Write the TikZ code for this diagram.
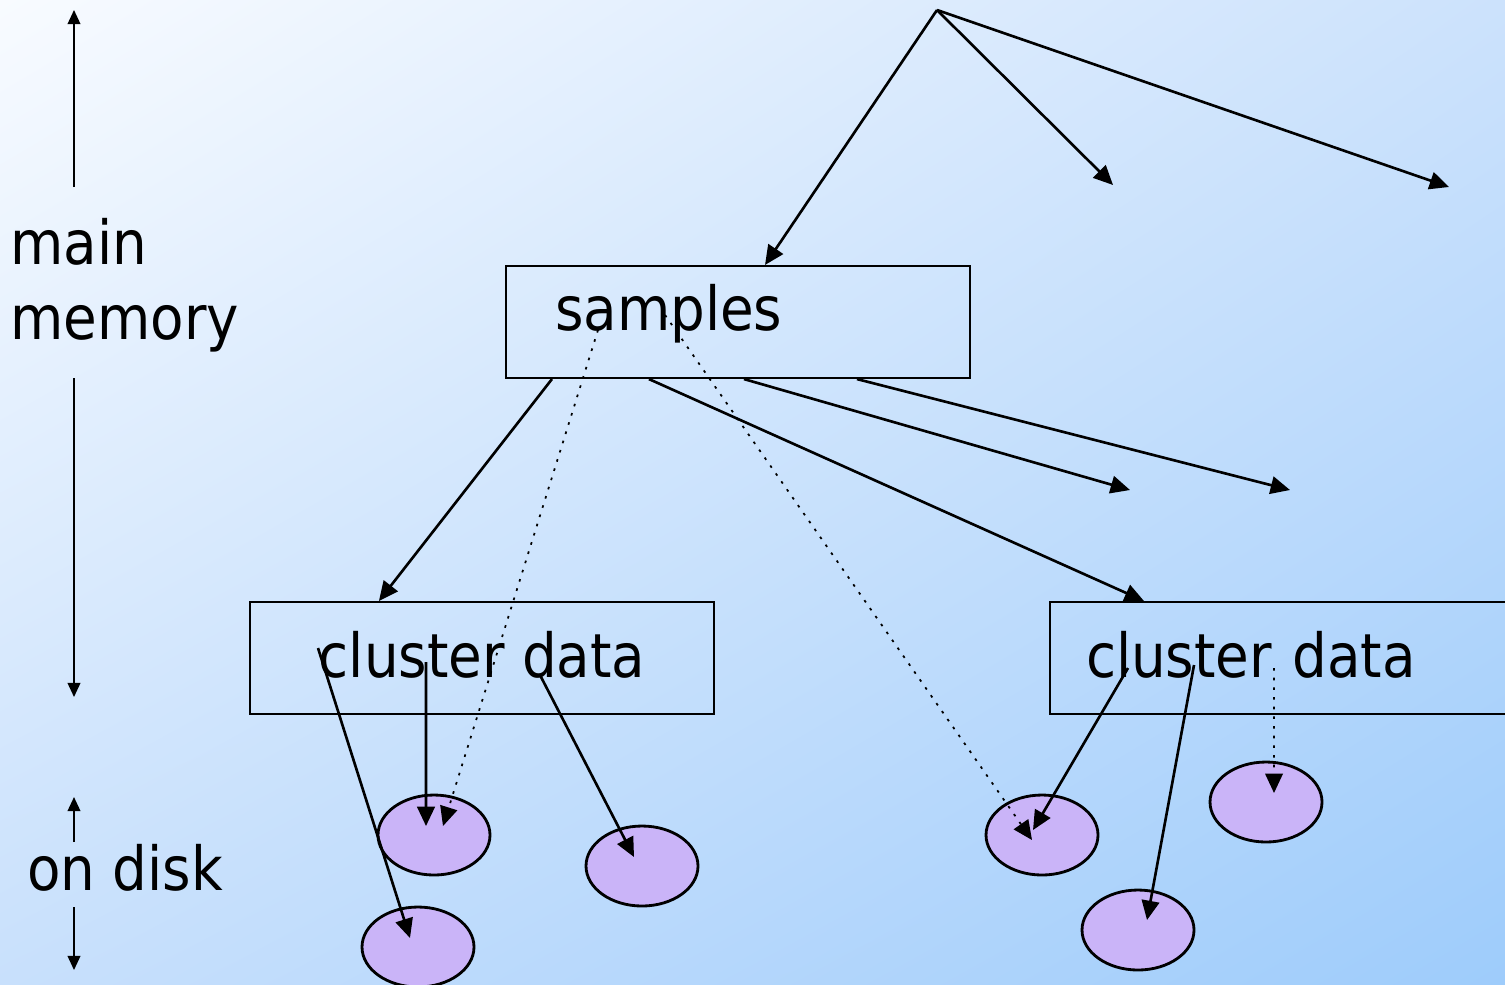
\documentclass[tikz,border=0pt]{standalone}
\usepackage{fontspec}
\setmainfont{DejaVu Sans Condensed}
\usetikzlibrary{arrows.meta,positioning,shapes.geometric,shadings}
\definecolor{bgtl}{RGB}{248,251,255}
\definecolor{bgtr}{RGB}{204,226,252}
\definecolor{bgbl}{RGB}{200,224,252}
\definecolor{bgbr}{RGB}{158,204,251}
\definecolor{diskfill}{RGB}{202,180,248}
\tikzset{box/.style={draw,line width=0.6pt,minimum width=4.64cm,minimum height=1.12cm,inner sep=0pt},
  disk/.style={ellipse,draw,line width=0.8pt,fill=diskfill,minimum width=1.12cm,minimum height=0.8cm,inner sep=0pt},
  arr/.style={-{Triangle[length=5.5pt,width=5pt]},line width=0.75pt},
  dotarr/.style={arr,dotted,line width=0.5pt},
  axarr/.style={-{Triangle[length=4pt,width=3.6pt]},line width=0.5pt}}

\begin{document}
\begin{tikzpicture}[font=\fontsize{17.3}{21.3}\selectfont]
\useasboundingbox (0,0) rectangle (15.05,-9.84);
\clip (0,0) rectangle (15.05,-9.84);
\shade[upper left=bgtl,upper right=bgtr,lower left=bgbl,lower right=bgbr] (0,0) rectangle (15.05,-9.84);

% memory levels on the left
\node[align=left,anchor=west,inner sep=0pt] (mem) at (0.1,-2.85) {main\\memory};
\node[inner sep=0pt] (disk) at (1.25,-8.68) {on disk};
\coordinate (memup) at (0.74,-0.10);
\coordinate (memtop) at (0.74,-1.87);
\coordinate (membot) at (0.74,-3.78);
\coordinate (memdown) at (0.74,-6.97);
\coordinate (diskup) at (0.74,-7.97);
\coordinate (disktop) at (0.74,-8.42);
\coordinate (diskbot) at (0.74,-9.07);
\coordinate (diskdown) at (0.74,-9.70);
\draw[axarr] (memtop) -- (memup);
\draw[axarr] (membot) -- (memdown);
\draw[axarr] (disktop) -- (diskup);
\draw[axarr] (diskbot) -- (diskdown);

% tree
\coordinate (root) at (9.37,-0.10);
\coordinate (r1) at (11.13,-1.85);
\coordinate (r2) at (14.49,-1.87);
\coordinate (s1) at (11.30,-4.90);
\coordinate (s2) at (12.90,-4.90);
\node[box,text width=3.66cm,inner xsep=0.49cm,align=left,text depth=0.3cm] (samples) at (7.38,-3.22) {samples};
\node[box,text depth=0.08cm] (cl1) at (4.82,-6.58) {cluster data};
\node[box,text width=3.92cm,inner xsep=0.36cm,align=left,text depth=0.08cm] (cl2) at (12.82,-6.58) {cluster data};

\node[disk] (d1) at (4.34,-8.35) {};
\node[disk] (d2) at (4.18,-9.47) {};
\node[disk] (d3) at (6.42,-8.66) {};
\node[disk] (d4) at (10.42,-8.35) {};
\node[disk] (d5) at (11.38,-9.30) {};
\node[disk] (d6) at (12.66,-8.02) {};

\draw[arr] (root) -- ([xshift=2.7mm]samples.north);
\draw[arr] (root) -- (r1);
\draw[arr] (root) -- (r2);
\draw[arr] ([xshift=4.7mm]samples.south west) -- ([xshift=13mm]cl1.north west);
\draw[arr] ([xshift=14.4mm]samples.south west) -- ([xshift=9.5mm]cl2.north west);
\draw[arr] ([xshift=23.9mm]samples.south west) -- (s1);
\draw[arr] ([xshift=35.2mm]samples.south west) -- (s2);
\draw[dotarr] ([shift={(-1.40,-0.08)}]samples.center) -- ([shift={(0.09,0.09)}]d1.center);
\draw[dotarr] ([shift={(-0.73,0.07)}]samples.center) -- ([shift={(-0.10,-0.05)}]d4.center);

\draw[arr] ([shift={(-1.64,0.10)}]cl1.center) -- ([shift={(-0.08,0.09)}]d2.center);
\draw[arr] ([shift={(-0.56,-0.04)}]cl1.center) -- ([shift={(-0.08,0.09)}]d1.center);
\draw[arr] ([shift={(0.58,-0.17)}]cl1.center) -- ([shift={(-0.08,0.09)}]d3.center);
\draw[arr] ([shift={(-1.54,-0.10)}]cl2.center) -- ([shift={(-0.09,0.05)}]d4.center);
\draw[arr] ([shift={(-0.88,-0.07)}]cl2.center) -- ([shift={(0.09,0.10)}]d5.center);
\draw[dotarr] ([shift={(-0.08,-0.10)}]cl2.center) -- ([shift={(0.08,0.09)}]d6.center);
\end{tikzpicture}
\end{document}
